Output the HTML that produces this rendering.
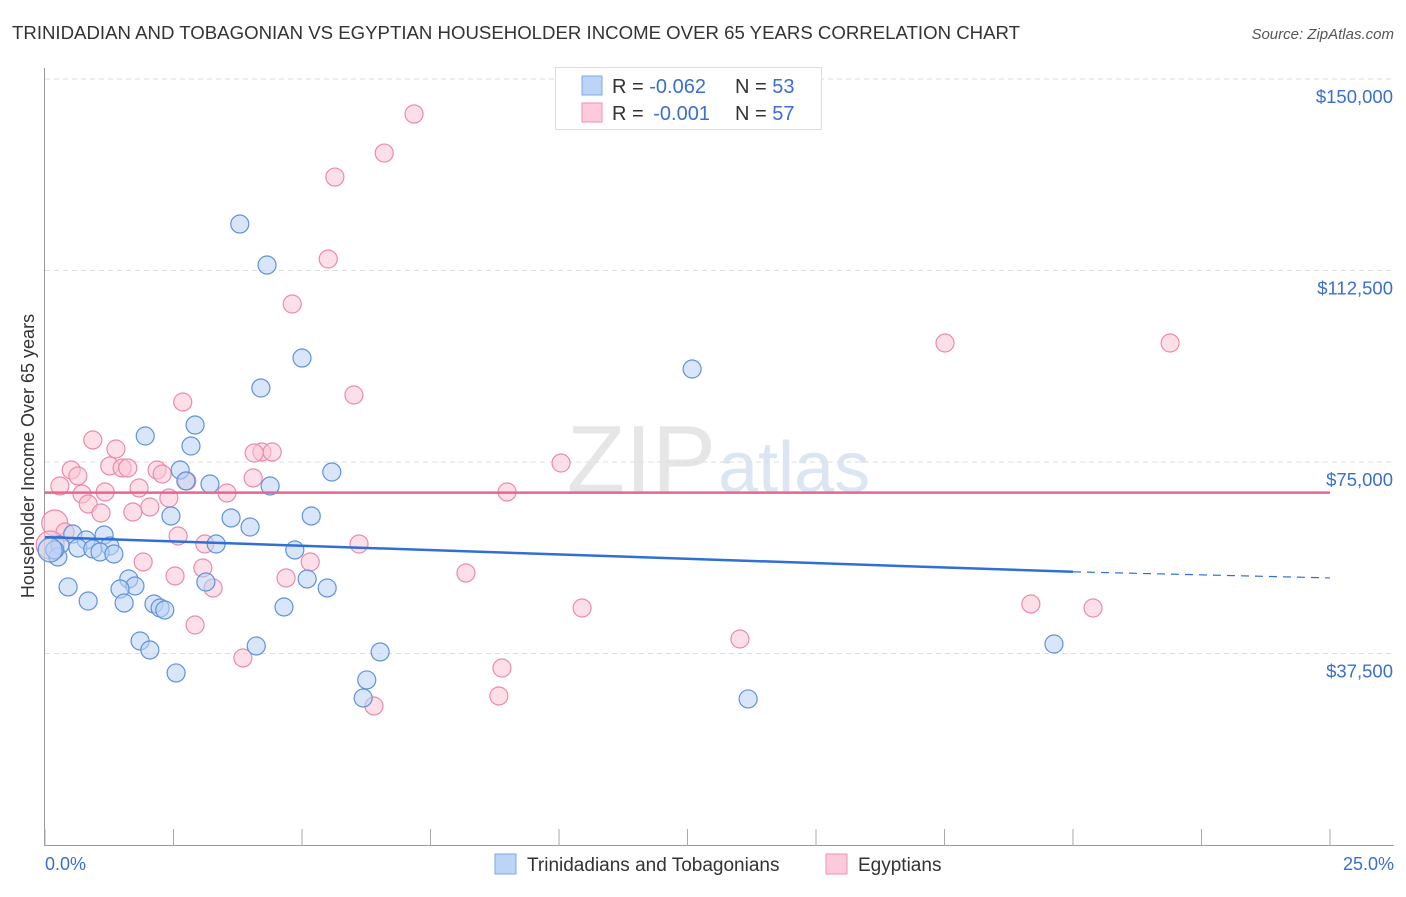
<!DOCTYPE html>
<html><head><meta charset="utf-8"><style>
body{margin:0;background:#fff;font-family:"Liberation Sans",sans-serif}
svg text{font-family:"Liberation Sans",sans-serif}
</style></head><body>
<svg id="c" width="1406" height="892" xmlns="http://www.w3.org/2000/svg">
<text x="12" y="39" font-size="18" fill="#333" textLength="1008" lengthAdjust="spacingAndGlyphs">TRINIDADIAN AND TOBAGONIAN VS EGYPTIAN HOUSEHOLDER INCOME OVER 65 YEARS CORRELATION CHART</text>
<text x="1394" y="39" font-size="15" fill="#555" text-anchor="end" font-style="italic">Source: ZipAtlas.com</text>
<text x="716" y="492" font-size="96" fill="#e6e6e6" text-anchor="end" font-family="Liberation Serif">ZIP</text>
<text x="718" y="492" font-size="72" fill="#dce6f3">atlas</text>
<g id="grid"></g><g id="pts"></g><g id="trend"></g>
<text x="34" y="456" font-size="18" fill="#333" text-anchor="middle" transform="rotate(-90 34 456)">Householder Income Over 65 years</text>
<text x="45" y="870" font-size="18" fill="#3a6fd0">0.0%</text>
<text x="1394" y="870" font-size="18" fill="#3a6fd0" text-anchor="end">25.0%</text>
<g>
<rect x="555.5" y="67.5" width="266" height="62" fill="#fff" stroke="#ddd"/>
<rect x="582" y="76" width="20" height="19" fill="#bcd4f5" stroke="#7ea6e3"/>
<rect x="582" y="103" width="20" height="19" fill="#fccadb" stroke="#ee92b0"/>
<text x="612" y="93" font-size="20" fill="#333">R = <tspan fill="#3a6fd0">-0.062</tspan><tspan x="735">N = </tspan><tspan fill="#3a6fd0">53</tspan></text>
<text x="612" y="120" font-size="20" fill="#333">R = <tspan fill="#3a6fd0" dx="4">-0.001</tspan><tspan x="735">N = </tspan><tspan fill="#3a6fd0">57</tspan></text>
</g>
<g>
<rect x="495" y="854" width="21" height="20" fill="#bcd4f5" stroke="#7ea6e3"/>
<text x="527" y="871" font-size="19" fill="#333">Trinidadians and Tobagonians</text>
<rect x="826" y="854" width="21" height="20" fill="#fccadb" stroke="#ee92b0"/>
<text x="858" y="871" font-size="19" fill="#333">Egyptians</text>
</g>
</svg>
<script>
const yTicks=[37500,75000,112500,150000];
const yTickLabels=["$37,500","$75,000","$112,500","$150,000"];
const xTicks=[0,2.5,5,7.5,10,12.5,15,17.5,20,22.5,25];
const blueX=[3.79,4.32,5.00,4.20,12.59,1.95,2.92,2.84,2.63,5.58,3.21,4.38,2.74,2.45,3.62,5.18,3.99,3.33,0.54,1.15,0.80,0.29,1.26,0.64,0.93,1.07,1.34,4.86,0.25,0.19,1.63,1.75,1.46,0.45,5.10,5.49,3.13,0.84,1.54,2.12,2.24,2.33,4.65,1.85,2.04,4.11,6.52,2.55,6.26,6.19,13.68,19.63,0.10];
const blueY=[121600,113570,95360,89490,93210,80090,82240,78130,73430,73040,70690,70300,71280,64430,64040,64430,62270,58940,60900,60710,59730,58750,58550,58160,57970,57380,56990,57770,56400,57770,52090,50720,50130,50530,52090,50330,51500,47780,47390,47200,46410,46020,46610,39950,38190,38970,37800,33690,32320,28790,28600,39360,57770];
const pinkX=[7.18,6.60,5.64,5.51,4.81,17.51,21.89,6.01,2.68,0.93,1.38,4.22,4.42,4.07,10.04,0.51,0.64,1.26,1.50,1.61,2.18,2.28,2.76,0.29,4.05,1.83,0.72,1.17,3.54,8.99,2.41,0.84,2.04,1.09,1.71,0.19,0.39,2.59,3.11,6.11,0.10,5.16,1.91,3.07,2.53,4.69,8.19,3.27,10.45,19.18,20.39,2.92,13.52,3.85,8.89,8.83,6.40];
const pinkY=[143140,135500,130800,114750,105940,98300,98300,88120,86750,79310,77550,76960,76960,76760,74800,73430,72260,74220,73830,73830,73430,72650,71280,70300,71870,69910,68730,69130,68930,69130,67950,66780,66190,65010,65210,63060,61290,60510,58940,58940,58750,55420,55420,54250,52680,52290,53270,50330,46410,47200,46410,43080,40340,36620,34660,29180,27220];
const pinkSize=[9,9,9,9,9,9,9,9,9,9,9,9,9,9,9,9,9,9,9,9,9,9,9,9,9,9,9,9,9,9,9,9,9,9,9,13,9,9,9,9,14,9,9,9,9,9,9,9,9,9,9,9,9,9,9,9,9];
const blueTrendY=[60300,53500,52300];
const pinkTrendY=[69000,69000];
const X=v=>45+v*51.4;
const Y=v=>462-(v-75000)*191.5/37500;
const ns="http://www.w3.org/2000/svg";
function mk(t,a,p){const e=document.createElementNS(ns,t);for(const k in a)e.setAttribute(k,a[k]);p.appendChild(e);return e;}
const g=document.getElementById('grid');
yTicks.forEach((v,i)=>{
 const l=mk('line',{x1:45,x2:1394,y1:Y(v),y2:Y(v),stroke:'#ddd','stroke-dasharray':'5,4'},g);
 
 
 const t=mk('text',{x:1393,y:Y(v)+24,'font-size':18.5,fill:'#3a6fd0','text-anchor':'end'},g);
 t.textContent=yTickLabels[i];
 
 
});
const ax=mk('line',{x1:44.5,x2:44.5,y1:68,y2:846,stroke:'#999'},g);


const bx=mk('line',{x1:44,x2:1394,y1:845.5,y2:845.5,stroke:'#999'},g);


xTicks.forEach(v=>{const t=mk('line',{x1:X(v),x2:X(v),y1:829,y2:846,stroke:'#aaa'},g);
 
 });
const pts=document.getElementById('pts');
function dot(x,y,r,fill,stroke,name){
 const c=mk('circle',{cx:X(x),cy:Y(y),r:r,fill:fill,'fill-opacity':0.55,stroke:stroke,'stroke-width':1.2},pts);
 
 
}
pinkX.forEach((x,i)=>dot(x,pinkY[i],pinkSize[i],'#fbc4d6','#ec8aab','egyptian-point'));
blueX.forEach((x,i)=>dot(x,blueY[i],i==52?12:9,'#b9d2f4','#5f92dc','trinidadian-point'));
const tr=document.getElementById('trend');
const bl=mk('line',{x1:X(0),y1:Y(blueTrendY[0]),x2:X(20),y2:Y(blueTrendY[1]),stroke:'#2f6fd6','stroke-width':2.5},tr);


const bd=mk('line',{x1:X(20),y1:Y(blueTrendY[1]),x2:X(25),y2:Y(blueTrendY[2]),stroke:'#2f6fd6','stroke-width':1.2,'stroke-dasharray':'8,6'},tr);


const pl=mk('line',{x1:X(0),y1:Y(pinkTrendY[0]),x2:X(25),y2:Y(pinkTrendY[1]),stroke:'#e8658f','stroke-width':2.5},tr);


</script>
</body></html>
